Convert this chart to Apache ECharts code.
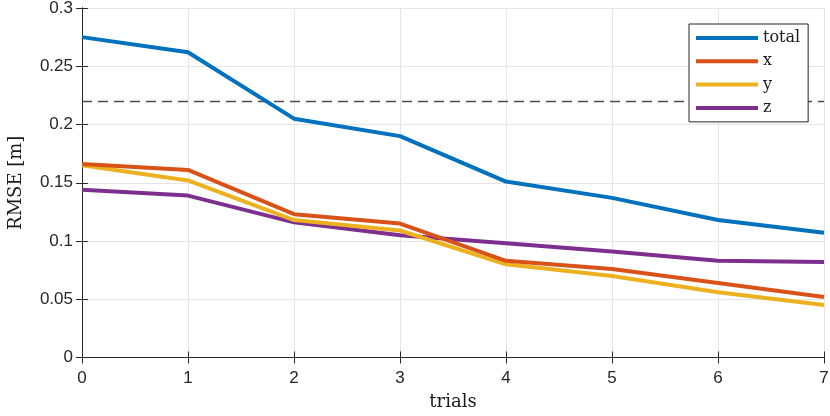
<!DOCTYPE html>
<html>
<head>
<meta charset="utf-8">
<script src="https://cdn.jsdelivr.net/npm/echarts@6/dist/echarts.min.js"></script>
<style>html,body{margin:0;padding:0;background:#fff;}#c{width:830px;height:416px;}</style>
</head>
<body>
<div id="c"></div>
<script>
const trials = [0, 1, 2, 3, 4, 5, 6, 7];
const totalVals = [0.275, 0.262, 0.205, 0.190, 0.151, 0.137, 0.118, 0.107];
const xVals = [0.166, 0.161, 0.123, 0.115, 0.083, 0.076, 0.064, 0.052];
const yVals = [0.165, 0.152, 0.118, 0.109, 0.080, 0.070, 0.056, 0.045];
const zVals = [0.144, 0.139, 0.116, 0.105, 0.098, 0.091, 0.083, 0.082];
const threshold = 0.22;
const seriesNames = ['total', 'x', 'y', 'z'];
const colors = ['#0072BD', '#D95319', '#EDB120', '#7E2F8E'];

const axisColor = '#262626';
const gridColor = '#e5e5e5';
const sans = 'Liberation Sans, Helvetica, Arial, sans-serif';
const serif = 'DejaVu Serif, Liberation Serif, serif';

function pairs(vals) { return trials.map((t, i) => [t, vals[i]]); }

const chart = echarts.init(document.getElementById('c'), null, {renderer: 'canvas'});
const dataSets = [totalVals, xVals, yVals, zVals];
const series = dataSets.map((vals, i) => ({
  name: seriesNames[i],
  type: 'line',
  data: pairs(vals),
  showSymbol: false,
  symbol: 'none',
  lineStyle: {color: colors[i], width: 4},
  itemStyle: {color: colors[i]},
  z: 10 - i,
  animation: false
}));
series[0].markLine = {
  silent: true,
  symbol: 'none',
  label: {show: false},
  lineStyle: {color: '#4d4d4d', type: [10, 6], width: 1.3},
  data: [{yAxis: threshold}],
  animation: false
};

const commonX = {
  type: 'value', min: 0, max: 7, interval: 1,
  axisLine: {show: true, lineStyle: {color: axisColor, width: 1}},
  axisTick: {show: true, inside: true, length: 6, lineStyle: {color: axisColor}},
};
const commonY = {
  type: 'value', min: 0, max: 0.3, interval: 0.05,
  axisLine: {show: true, lineStyle: {color: axisColor, width: 1}},
  axisTick: {show: true, inside: true, length: 6, lineStyle: {color: axisColor}},
};

chart.setOption({
  animation: false,
  backgroundColor: '#fff',
  grid: {left: 82, right: 6, top: 8, bottom: 58.5, containLabel: false, outerBoundsMode: 'none'},
  legend: {
    data: seriesNames,
    orient: 'vertical',
    left: 689, top: 24,
    z: 100, zlevel: 0,
    padding: [6, 8, 6, 7],
    itemWidth: 62, itemHeight: 4, itemGap: 7.3, itemTextGap: 5,
    icon: 'rect',
    backgroundColor: '#fff',
    borderColor: axisColor, borderWidth: 1, borderRadius: 0,
    textStyle: {fontFamily: serif, fontSize: 16, color: '#1a1a1a', lineHeight: 16}
  },
  xAxis: [
    Object.assign({}, commonX, {
      position: 'bottom',
      name: 'trials', nameLocation: 'middle', nameGap: 36,
      nameTextStyle: {fontFamily: serif, fontSize: 18, color: '#1a1a1a'},
      axisLabel: {fontFamily: sans, fontSize: 17, color: axisColor, margin: 12},
      splitLine: {show: true, lineStyle: {color: gridColor, width: 1}}
    }),
    Object.assign({}, commonX, {
      position: 'top',
      axisLabel: {show: false},
      splitLine: {show: false}
    })
  ],
  yAxis: [
    Object.assign({}, commonY, {
      position: 'left',
      name: 'RMSE [m]', nameLocation: 'middle', nameGap: 57,
      nameTextStyle: {fontFamily: serif, fontSize: 18, color: '#1a1a1a'},
      axisLabel: {fontFamily: sans, fontSize: 17, color: axisColor, margin: 9,
        formatter: v => String(parseFloat(v.toFixed(2)))},
      splitLine: {show: true, lineStyle: {color: gridColor, width: 1}}
    }),
    Object.assign({}, commonY, {
      position: 'right',
      axisLabel: {show: false},
      splitLine: {show: false}
    })
  ],
  series: series
});
</script>
</body>
</html>
